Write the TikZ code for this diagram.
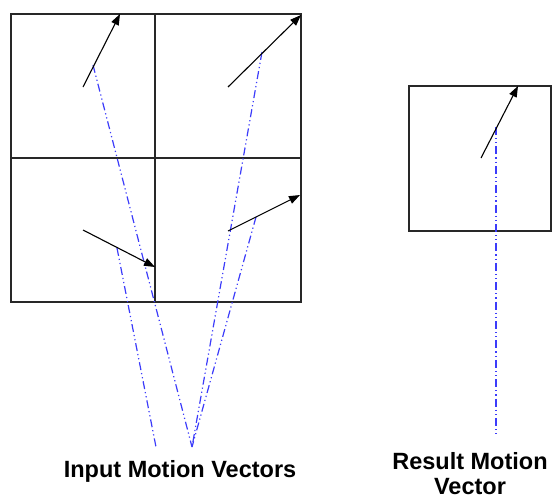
\documentclass[tikz,border=0pt]{standalone}
\usepackage{fontspec}
\setmainfont{Liberation Sans}
\usetikzlibrary{arrows.meta}
\definecolor{mvblue}{RGB}{60,60,250}
\definecolor{frame}{RGB}{40,40,40}
\tikzset{
  cellframe/.style={draw=frame, line width=1.8pt},
  mvarrow/.style={draw=black, line width=1.1pt, -{Triangle[length=11pt,width=8pt]}},
  trace/.style={draw=mvblue, line width=1.2pt, dash pattern=on 8pt off 3pt on 1.2pt off 3pt on 1.2pt off 3pt},
  lbl/.style={font=\fontsize{23.5}{25}\selectfont\bfseries, inner sep=0pt, align=center}
}
\begin{document}
\begin{tikzpicture}[x=1pt,y=-1pt]
\useasboundingbox (0,0) rectangle (552,498);
% grid of input blocks
\draw[cellframe] (11,14) rectangle (301,302);
\draw[cellframe] (155,14) -- (155,302);
\draw[cellframe] (11,158) -- (301,158);
% result block
\draw[cellframe, line width=1.5pt] (409,86) rectangle (551,231);

% arrow coordinates
\coordinate (tls) at (83,87);  \coordinate (tle) at (120,14);
\coordinate (trs) at (228,87); \coordinate (tre) at (301,15);
\coordinate (bls) at (83,230); \coordinate (ble) at (155,267);
\coordinate (brs) at (228,231);\coordinate (bre) at (300,195);
\coordinate (rs) at (481,158); \coordinate (re) at (518,86);

% trace start points on arrows
\coordinate (tlp) at (93,65);
\coordinate (trp) at (262,52);
\coordinate (blp) at (117,248);
\coordinate (brp) at (256,217);
\coordinate (rp) at (496,127);

% trace ends
\coordinate (ia) at (156,447);
\coordinate (ib) at (192,447);
\coordinate (ra) at (496,437);

% traces
\draw[trace] (tlp) -- (ib);
\draw[trace] (blp) -- (ia);
\draw[trace] (trp) -- (ib);
\draw[trace] (brp) -- (ib);
\draw[trace] (rp) -- (ra);

% motion vectors
\draw[mvarrow] (tls) -- (tle);
\draw[mvarrow] (trs) -- (tre);
\draw[mvarrow] (bls) -- (ble);
\draw[mvarrow] (brs) -- (bre);
\draw[mvarrow] (rs) -- (re);

% labels
\node[lbl, anchor=base] (inlbl) at (180,477) {Input Motion Vectors};
\node[lbl, anchor=base] (reslbl) at (470,494) {Result Motion\\Vector};
\end{tikzpicture}
\end{document}
